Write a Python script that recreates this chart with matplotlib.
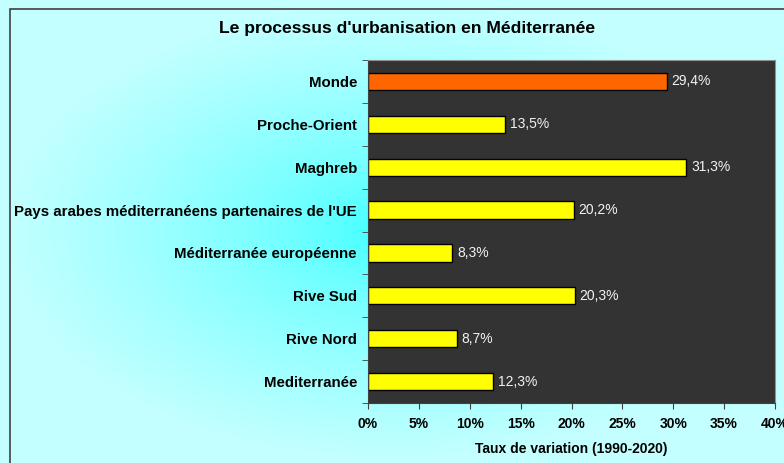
import numpy as np
import matplotlib.pyplot as plt
from matplotlib.colors import LinearSegmentedColormap
from matplotlib.patches import Rectangle

plt.rcParams['font.family'] = ['Liberation Sans', 'DejaVu Sans']

# data (bottom to top as drawn)
categories = ['Mediterranée', 'Rive Nord', 'Rive Sud', 'Méditerranée européenne',
              "Pays arabes méditerranéens partenaires de l'UE", 'Maghreb',
              'Proche-Orient', 'Monde']
values = [12.3, 8.7, 20.3, 8.3, 20.2, 31.3, 13.5, 29.4]
value_labels = ['12,3%', '8,7%', '20,3%', '8,3%', '20,2%', '31,3%', '13,5%', '29,4%']
bar_colors = ['#FFFF00'] * 7 + ['#FF6600']
xticks = [0, 5, 10, 15, 20, 25, 30, 35, 40]
xtick_labels = ['0%', '5%', '10%', '15%', '20%', '25%', '30%', '35%', '40%']

fig = plt.figure(figsize=(7.84, 4.63), dpi=100)

# background: radial cyan gradient
bg = fig.add_axes([0, 0, 1, 1], zorder=-10)
gx, gy = np.meshgrid(np.linspace(-1, 1, 400), np.linspace(-1, 1, 240))
r = np.clip(np.sqrt(gx ** 2 + gy ** 2), 0, 1) ** 0.65
cmap = LinearSegmentedColormap.from_list('cy', ['#33FFFF', '#C4FFFF'])
bg.imshow(r, cmap=cmap, aspect='auto', extent=[0, 1, 0, 1], vmin=0, vmax=1)
bg.set_xlim(0, 1)
bg.set_ylim(0, 1)
bg.axis('off')
bg.add_patch(Rectangle((10 / 784, -0.1), 1.2, 1 - 9 / 463 + 0.1, fill=False,
                       edgecolor='#404040', linewidth=1.2))

ax = fig.add_axes([368 / 784, 60 / 463, 407 / 784, 343 / 463])
ax.set_facecolor('#333333')
y = np.arange(len(categories))
ax.barh(y, values, height=0.4, color=bar_colors, edgecolor='black', linewidth=1)
for yi, v, lab in zip(y, values, value_labels):
    ax.text(v + 0.45, yi, lab, color='#F2F2F2', fontsize=10, va='center', ha='left')

ax.set_xlim(0, 40)
ax.set_ylim(-0.5, len(categories) - 0.5)
ax.set_xticks(xticks)
ax.set_xticklabels(xtick_labels, fontsize=10, fontweight='bold')
ax.set_yticks(y)
ax.set_yticklabels(categories, fontsize=10.8, fontweight='bold')
ax.set_yticks(np.arange(-0.5, len(categories), 1), minor=True)
ax.tick_params(axis='y', which='major', length=0, pad=8)
ax.tick_params(axis='y', which='minor', length=4, color='#404040')
ax.tick_params(axis='x', length=4, color='#404040', pad=6)
for s in ['left', 'bottom']:
    ax.spines[s].set_color('#404040')
for s in ['right', 'top']:
    ax.spines[s].set_color('#909090')
ax.set_xlabel('Taux de variation (1990-2020)', fontsize=10, fontweight='bold', labelpad=8)

fig.text(407 / 784, 1 - 28 / 463, "Le processus d'urbanisation en Méditerranée",
         fontsize=12.6, fontweight='bold', ha='center', va='center')

fig.savefig('out.png', dpi=100)
